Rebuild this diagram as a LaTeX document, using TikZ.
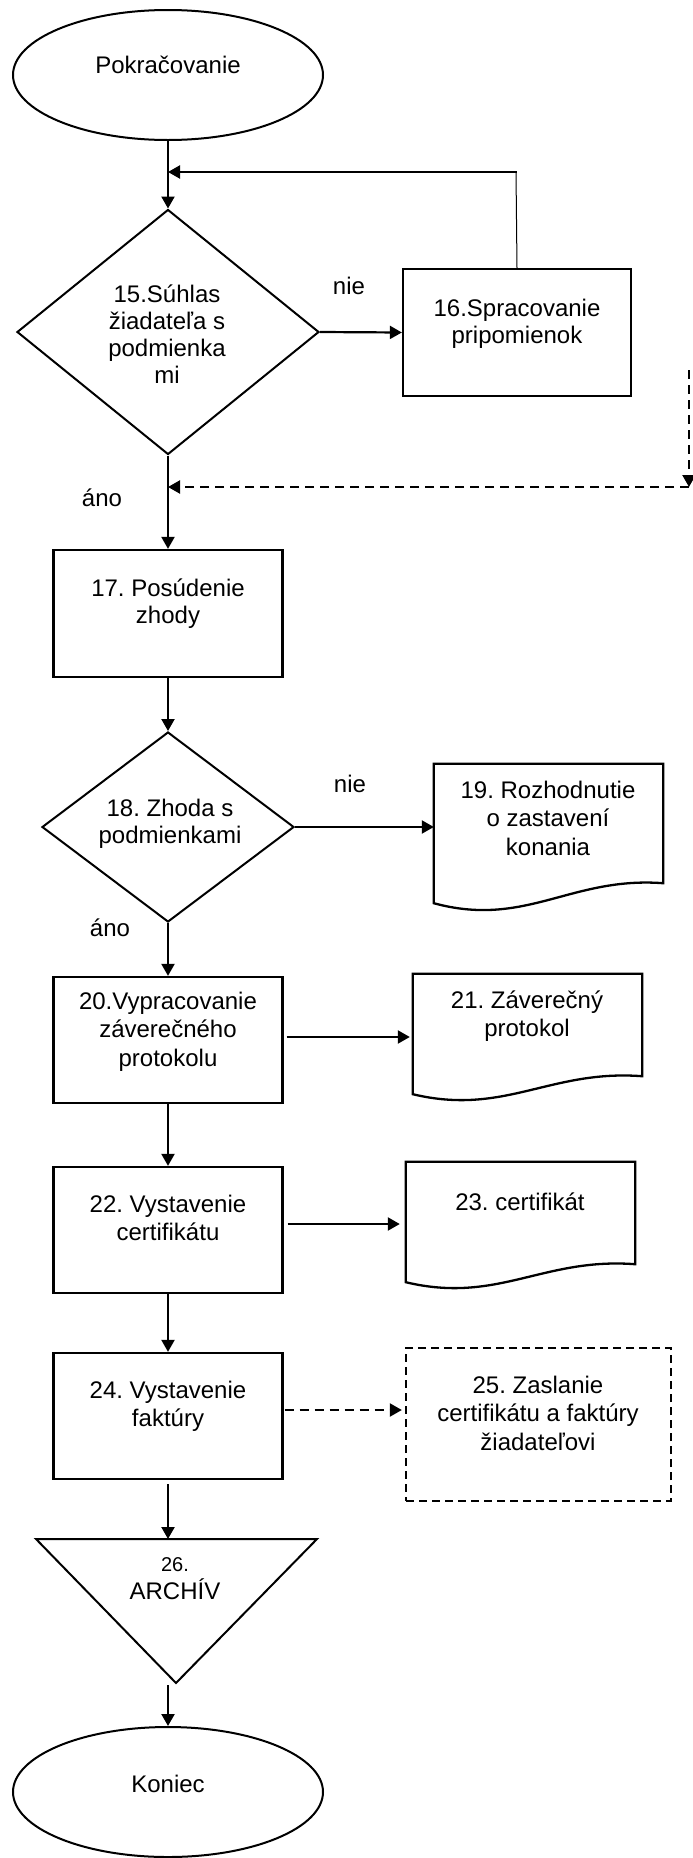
\documentclass[tikz,border=0pt]{standalone}
\usepackage{fontspec}
\setmainfont{Liberation Sans}
\usetikzlibrary{arrows.meta,shapes.geometric,calc}
\frenchspacing
\newcommand\ml[1]{\parbox[t]{300pt}{\centering #1}}
\newcommand\docshape[3]{\draw[shapeline] (#1.south east) -- (#1.north east) -- (#1.north west) -- ([yshift=-#2pt]#1.south west) .. controls ([xshift=92pt,yshift=-#3pt]#1.south west) and ([xshift=137pt,yshift=7pt]#1.south west) .. (#1.south east) -- cycle;}
\begin{document}
\begin{tikzpicture}[x=1pt,y=-1pt,
  shapeline/.style={line width=2.3pt, line join=miter},
  procbox/.style={draw, rectangle, line width=2.3pt, inner sep=0pt, minimum width=229pt, minimum height=126pt},
  docnode/.style={rectangle, draw=none, inner sep=0pt, minimum width=229pt, minimum height=102pt},
  terminal/.style={draw, ellipse, line width=2pt, inner sep=0pt, minimum width=310pt, minimum height=130pt},
  decision/.style={draw, diamond, line width=2pt, inner sep=0pt},
  arr/.style={line width=2.2pt, -{Triangle[length=12pt,width=13pt]}},
  darr/.style={arr, dash pattern=on 9pt off 6pt},
  thinline/.style={line width=1pt},
  txt/.style={anchor=base, inner sep=0pt, font=\fontsize{24}{28.5}\selectfont},
  tight/.style={font=\fontsize{24}{27.3}\selectfont}
]
\fill[white] (0,0) rectangle (693,1858);
\useasboundingbox (0,0) rectangle (693,1858);

% shapes
\node[terminal] (pok) at (168,75) {};
\node[decision, minimum width=302pt, minimum height=245pt] (d15) at (168,332) {};
\node[procbox, minimum width=228pt, minimum height=127pt] (b16) at (517,332.5) {};
\node[procbox, minimum height=127pt] (b17) at (168,613.5) {};
\node[decision, minimum width=252pt, minimum height=190pt] (d18) at (168,827) {};
\node[docnode, minimum height=119pt] (d19) at (548.5,823.5) {};
\docshape{d19}{20}{45}
\node[procbox] (b20) at (168,1040) {};
\node[docnode] (d21) at (527.5,1025) {};
\docshape{d21}{18}{40}
\node[procbox] (b22) at (168,1230) {};
\node[docnode] (d23) at (520.5,1213) {};
\docshape{d23}{18}{40}
\node[procbox] (b24) at (168,1416) {};
\node[procbox, dash pattern=on 8pt off 5pt, minimum width=265pt, minimum height=153pt] (b25) at (538.5,1424.5) {};
\coordinate (trtop) at (176,1539);
\coordinate (trbot) at (176,1683);
\draw[shapeline, line width=2pt] (36,1539) -- (317,1539) -- (trbot) -- cycle;
\node[terminal] (kon) at (168,1792) {};

% texts
\node[txt] (tpok) at (168,73) {\ml{Pokračovanie}};
\node[txt,tight] (t15) at (167,302) {\ml{15.Súhlas\\žiadateľa s\\podmienka\\mi}};
\node[txt,tight] (t16) at (517,316) {\ml{16.Spracovanie\\pripomienok}};
\node[txt,tight] (t17) at (168,596) {\ml{17. Posúdenie\\zhody}};
\node[txt,tight] (t18) at (170,816) {\ml{18. Zhoda s\\podmienkami}};
\node[txt] (t19) at (548,798) {\ml{19. Rozhodnutie\\o zastavení\\konania}};
\node[txt] (t20) at (168,1009) {\ml{20.Vypracovanie\\záverečného\\protokolu}};
\node[txt] (t21) at (527,1008) {\ml{21. Záverečný\\protokol}};
\node[txt] (t22) at (168,1212) {\ml{22. Vystavenie\\certifikátu}};
\node[txt] (t23) at (520,1210) {\ml{23. certifikát}};
\node[txt] (t24) at (168,1398) {\ml{24. Vystavenie\\faktúry}};
\node[txt] (t25) at (538,1393) {\ml{25. Zaslanie\\certifikátu a faktúry\\žiadateľovi}};
\node[txt] (t26) at (175,1571) {\ml{\fontsize{20}{24}\selectfont 26.\\\fontsize{24}{28}\selectfont ARCHÍV}};
\node[txt] (tkon) at (168,1792) {\ml{Koniec}};
\node[txt] (nie1) at (349,294) {nie};
\node[txt] (ano1) at (102,506) {áno};
\node[txt] (nie2) at (350,792) {nie};
\node[txt] (ano2) at (110,936) {áno};

% connectors
\draw[arr] (pok.south) -- (d15.north);
\coordinate (fb) at (516,172);
\draw[thinline] (b16.north) -- (fb);
\draw[arr] ([xshift=0.5pt]fb) -- (fb -| pok.south);
\draw[arr] (d15.east) -- (b16.west);
\draw[arr] (d15.south) -- (b17.north);
\coordinate (dtop) at (689,370);
\coordinate (dmid) at (689,487);
\draw[darr] (dtop) -- (dmid);
\draw[darr] (dmid) -- (dmid -| d15.south);
\draw[arr] (b17.south) -- (d18.north);
\draw[arr] (d18.east) -- (d18.east -| d19.west);
\draw[arr] (d18.south) -- (b20.north);
\draw[arr] ($(b20.east)+(3,-3)$) -- ($(b20.east -| d21.west)+(-3,-3)$);
\draw[arr] (b20.south) -- (b22.north);
\draw[arr] ($(b22.east)+(4,-6)$) -- ($(b22.east -| d23.west)+(-6,-6)$);
\draw[arr] (b22.south) -- (b24.north);
\draw[darr] ($(b24.east)+(1,-6)$) -- ($(b24.east -| b25.west)+(-3,-6)$);
\draw[arr] ($(b24.south)+(0,4)$) -- (b24.south |- trtop);
\draw[arr] ($(trbot -| kon.north)+(0,2)$) -- (kon.north);
\end{tikzpicture}
\end{document}
